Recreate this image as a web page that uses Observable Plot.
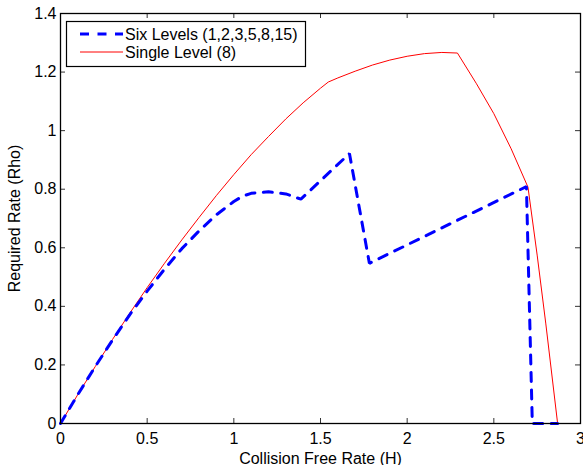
<!DOCTYPE html>
<html>
<head>
<meta charset="utf-8">
<script src="https://cdn.jsdelivr.net/npm/d3@7"></script>
<script src="https://cdn.jsdelivr.net/npm/@observablehq/plot@0.6"></script>
<style>
  html, body { margin: 0; padding: 0; background: #fff; }
  #chart svg { display: block; }
</style>
</head>
<body>
<div id="chart"></div>
<script>
// ---- data ----
const xTicks = [0, 0.5, 1, 1.5, 2, 2.5, 3];
const yTicks = [0, 0.2, 0.4, 0.6, 0.8, 1, 1.2, 1.4];

const seriesNames = ["Six Levels (1,2,3,5,8,15)", "Single Level (8)"];

// Single Level (8)
const singleH   = [0, 0.1, 0.2, 0.3, 0.4, 0.5, 0.6, 0.7, 0.8, 0.9, 1.0, 1.1, 1.2, 1.3, 1.4, 1.5, 1.545,
                   1.6, 1.7, 1.8, 1.9, 2.0, 2.1, 2.2, 2.29, 2.4, 2.5, 2.6, 2.697, 2.75, 2.8, 2.868];
const singleRho = [0, 0.099, 0.194, 0.287, 0.377, 0.464, 0.547, 0.627, 0.704, 0.779, 0.850, 0.918, 0.980, 1.040, 1.095, 1.145, 1.166,
                   1.180, 1.203, 1.224, 1.241, 1.254, 1.263, 1.267, 1.265, 1.160, 1.058, 0.938, 0.807, 0.575, 0.340, 0];

// Six Levels (1,2,3,5,8,15)
const sixH   = [0, 0.1, 0.2, 0.3, 0.4, 0.5, 0.6, 0.7, 0.8, 0.9, 1.0, 1.05, 1.1, 1.2, 1.3, 1.387,
                1.667, 1.782, 2.688, 2.722, 2.868];
const sixRho = [0, 0.099, 0.194, 0.285, 0.372, 0.452, 0.527, 0.597, 0.658, 0.713, 0.758, 0.776, 0.786, 0.791, 0.784, 0.766,
                0.922, 0.547, 0.809, 0, 0];

// ---- build ----
const single = singleH.map((h, i) => ({H: h, Rho: singleRho[i]}));
const six = sixH.map((h, i) => ({H: h, Rho: sixRho[i]}));

const W = 583, Hgt = 465;
const mL = 60, mR = 3, mT = 13, mB = 42;
const innerW = W - mL - mR, innerH = Hgt - mT - mB;
const fmt = d => String(d);
const tickLen = 5;
const FONT = "'Liberation Sans', Arial, Helvetica, sans-serif";
const FS = 16;

const chart = Plot.plot({
  width: W,
  height: Hgt,
  marginLeft: mL,
  marginRight: mR,
  marginTop: mT,
  marginBottom: mB,
  style: {fontFamily: FONT, fontSize: FS + "px", background: "#fff", color: "#000", overflow: "visible"},
  x: {domain: [0, 3]},
  y: {domain: [0, 1.4]},
  marks: [
    Plot.axisX(xTicks, {tickSize: 0, tickPadding: 9, tickFormat: fmt, fontSize: FS,
      label: "Collision Free Rate (H)", labelAnchor: "center", labelArrow: "none", labelOffset: 40}),
    Plot.axisY(yTicks, {tickSize: 0, tickPadding: 4, tickFormat: fmt, fontSize: FS,
      label: "Required Rate (Rho)", labelAnchor: "center", labelArrow: "none", labelOffset: 52}),
    // inward MATLAB-style ticks on all four sides
    Plot.tickX(xTicks, {x: d => d, insetTop: innerH - tickLen, stroke: "#333"}),
    Plot.tickX(xTicks, {x: d => d, insetBottom: innerH - tickLen, stroke: "#333"}),
    Plot.tickY(yTicks, {y: d => d, insetRight: innerW - tickLen, stroke: "#333"}),
    Plot.tickY(yTicks, {y: d => d, insetLeft: innerW - tickLen, stroke: "#333"}),
    Plot.line(single, {x: "H", y: "Rho", stroke: "#ff0000", strokeWidth: 1}),
    Plot.line(six, {x: "H", y: "Rho", stroke: "#0000ff", strokeWidth: 3, strokeDasharray: "9,8.5", strokeLinejoin: "miter"}),
    Plot.frame({stroke: "#000", strokeWidth: 1.3})
  ]
});

// legend inside the axes box (top-left)
const svg = d3.select(chart);
const lg = svg.append("g").attr("font-family", FONT).attr("font-size", FS).attr("text-anchor", "start");
lg.append("rect").attr("x", 66.5).attr("y", 21.5).attr("width", 239).attr("height", 45)
  .attr("fill", "#fff").attr("stroke", "#000").attr("stroke-width", 1.2);
const legendStyles = [
  {stroke: "#0000ff", width: 3, dash: "9,8.5"},
  {stroke: "#ff0000", width: 1, dash: null}
];
seriesNames.forEach((name, i) => {
  const yy = 34 + i * 18;
  const ln = lg.append("line").attr("x1", 80).attr("x2", 123).attr("y1", yy).attr("y2", yy)
    .attr("stroke", legendStyles[i].stroke).attr("stroke-width", legendStyles[i].width);
  if (legendStyles[i].dash) ln.attr("stroke-dasharray", legendStyles[i].dash);
  lg.append("text").attr("x", 125).attr("y", yy).attr("dy", "0.35em")
    .attr("fill", "#000").attr("text-anchor", "start").style("font-size", FS + "px").text(name);
});

document.getElementById("chart").appendChild(chart);
</script>
</body>
</html>
